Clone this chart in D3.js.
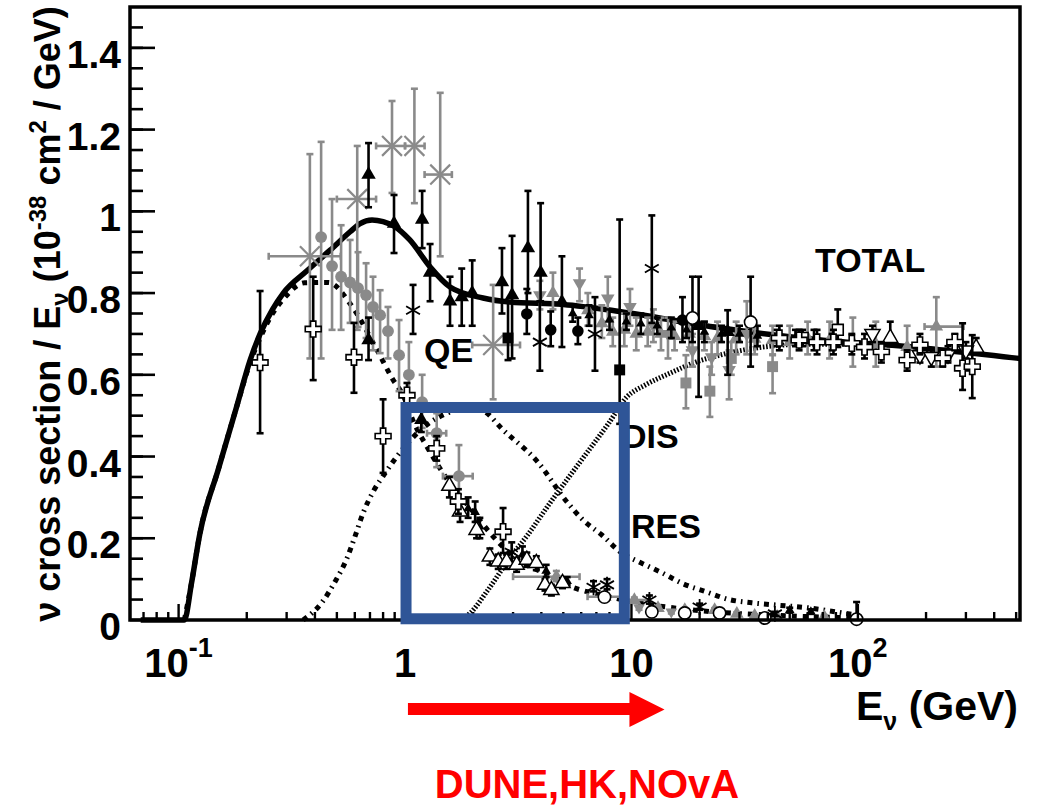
<!DOCTYPE html>
<html>
<head>
<meta charset="utf-8">
<script src="https://cdn.jsdelivr.net/npm/d3@7"></script>
<style>
body { margin: 0; background: #fff; }
svg { display: block; font-family: "Liberation Sans", Arial, sans-serif; font-weight: bold; }
</style>
</head>
<body>
<svg></svg>
<script>
var width = 1041;
var height = 807;

// ---- model curves [E (GeV), sigma/E] ----
var totalCurve = [[0.068,0],[0.106,0],[0.114,0.09],[0.124,0.21],[0.15,0.37],[0.18,0.52],[0.207,0.636],[0.229,0.70],[0.26,0.76],[0.29,0.80],[0.37,0.855],[0.467,0.905],[0.572,0.95],[0.633,0.97],[0.715,0.979],[0.80,0.975],[0.894,0.964],[1.05,0.93],[1.29,0.864],[1.58,0.815],[2.21,0.788],[2.9,0.778],[5,0.772],[8.85,0.755],[24.4,0.715],[67,0.686],[185,0.667],[478,0.642],[520,0.64]];
var qeCurve = [[0.106,0],[0.114,0.09],[0.124,0.21],[0.15,0.37],[0.18,0.52],[0.207,0.63],[0.229,0.69],[0.26,0.75],[0.29,0.785],[0.36,0.825],[0.458,0.826],[0.584,0.767],[0.753,0.66],[0.885,0.588],[0.98,0.55],[1.1,0.48],[1.25,0.424],[1.6,0.33],[2.0,0.265],[2.4,0.21],[3.1,0.15],[4.1,0.115],[5.5,0.08],[7.5,0.06],[10,0.045],[20,0.023],[50,0.01],[100,0.005]];
var resCurve = [[0.355,0],[0.431,0.044],[0.49,0.093],[0.555,0.152],[0.60,0.203],[0.653,0.262],[0.723,0.314],[0.825,0.363],[0.95,0.41],[1.2,0.47],[1.6,0.51],[2.0,0.52],[2.25,0.51],[2.7,0.466],[3.85,0.387],[5.17,0.29],[6.1,0.245],[7.4,0.208],[9,0.165],[10.8,0.142],[13.7,0.115],[16.7,0.09],[21.4,0.069],[27,0.05],[34,0.042],[45,0.036],[60,0.03],[80,0.02],[100,0.012]];
var disCurve = [[1.75,0],[1.94,0.017],[2.3,0.07],[2.88,0.149],[3.5,0.21],[4.3,0.281],[5.3,0.35],[6.43,0.413],[7.9,0.48],[9.55,0.546],[11.5,0.575],[14.8,0.604],[19,0.63],[24.5,0.648],[35,0.665],[60,0.675],[100,0.675]];

// ---- data points [E, y, yLow, yHigh, (xLow, xHigh)] ----
var grayStars = [[0.38,0.89,0.64,1.14,0.25,0.52],[0.615,1.03,0.71,1.16,0.50,0.745],[0.876,1.16,1.045,1.27,0.745,1.0],[1.10,1.16,1.02,1.30,1.0,1.22],[1.43,1.09,0.89,1.29,1.22,1.61],[2.45,0.673,0.54,0.82,1.98,3.22]];
var grayCircles = [[0.426,0.937,0.64,1.17],[0.476,0.866,0.71,1.03],[0.522,0.84,0.71,0.966],[0.572,0.826,0.727,0.93],[0.62,0.812,0.717,0.90],[0.673,0.795,0.69,0.873],[0.722,0.766,0.66,0.84],[0.776,0.746,0.653,0.807],[0.841,0.707,0.64,0.766],[0.941,0.648,0.56,0.734],[1.04,0.60,0.52,0.68],[1.19,0.533,0.47,0.60],[1.38,0.457,0.374,0.506,1.25,1.52],[1.73,0.352,0.277,0.428,1.47,1.99]];
var blackTriUp = [[0.69,1.09,1.01,1.167],[0.69,0.685,0.636,0.74],[0.894,0.97,0.898,1.04],[1.19,0.98,0.91,1.05],[1.29,0.85,0.78,0.92],[1.58,0.78,0.72,0.84],[1.78,0.79,0.72,0.86],[1.98,0.80,0.72,0.88],[2.68,0.827,0.75,0.91],[2.97,0.795,0.64,0.94],[3.49,0.91,0.80,1.05],[3.97,0.85,0.78,1.02],[4.93,0.778,0.668,0.89],[19.8,0.72,0.546,0.84],[26.6,0.705,0.60,0.758],[1.18,0.49,0.46,0.52]];
var blackSmallTri = [[1.9,0.273,0.25,0.30],[2.04,0.264,0.24,0.29],[2.14,0.228,0.2,0.25],[5.5,0.75,0.73,0.77],[6.5,0.745,0.72,0.77],[8,0.735,0.71,0.76],[9.5,0.73,0.71,0.75],[11,0.725,0.70,0.75],[13,0.72,0.70,0.74],[15,0.715,0.69,0.74],[17.5,0.71,0.69,0.73],[21,0.705,0.68,0.73],[25,0.70,0.68,0.72],[30,0.70,0.68,0.72],[36,0.695,0.67,0.72],[44,0.69,0.67,0.71],[53,0.69,0.67,0.71],[64,0.685,0.66,0.71],[77,0.68,0.66,0.70],[3.3,0.16,0.14,0.18],[4.2,0.12,0.105,0.135],[5.2,0.095,0.085,0.105],[50,0.024,0.018,0.03],[62,0.02,0.015,0.026]];
var blackCircles = [[3.45,0.749,0.70,0.81],[4.4,0.71,0.67,0.755],[5.8,0.707,0.675,0.74],[16.8,0.734,0.68,0.79]];
var blackSquares = [[2.85,0.69,0.636,0.78],[8.87,0.612,0.48,0.98]];
var blackStars = [[1.085,0.758,0.70,0.82],[3.94,0.68,0.61,0.78],[6.9,0.70,0.61,0.79],[12.3,0.86,0.727,0.99],[2.96,0.166,0.14,0.19],[6.8,0.08,0.07,0.095],[7.8,0.086,0.075,0.1],[12.0,0.049,0.04,0.06],[20,0.032,0.025,0.04],[43,0.015,0.01,0.02]];
var grayTriDown = [[3.94,0.795,0.76,0.83],[5.9,0.824,0.78,0.86],[7.86,0.787,0.73,0.84],[9.85,0.766,0.72,0.81],[12.5,0.72,0.68,0.76],[14.5,0.70,0.64,0.74],[18.6,0.66,0.62,0.70],[22.6,0.643,0.60,0.68],[27,0.612,0.54,0.66],[32.3,0.70,0.65,0.78]];
var grayTriUp = [[4.5,0.80,0.76,0.85],[6.42,0.758,0.72,0.80],[7.4,0.726,0.69,0.77],[8.27,0.705,0.67,0.74],[9.3,0.71,0.67,0.75],[10.5,0.70,0.66,0.74],[11.8,0.705,0.67,0.74],[13.5,0.70,0.66,0.74],[15.5,0.695,0.66,0.73],[18,0.70,0.66,0.74],[21,0.695,0.66,0.73],[24,0.69,0.65,0.73],[29,0.69,0.65,0.73],[35,0.688,0.65,0.725],[42,0.685,0.65,0.72],[50,0.68,0.64,0.72],[60,0.69,0.65,0.73],[75,0.685,0.64,0.73],[95,0.68,0.62,0.74],[120,0.675,0.62,0.73],[165,0.668,0.61,0.72],[222,0.718,0.62,0.79,197,293],[4.66,0.106,0.095,0.12,3.0,5.9],[7.63,0.057,0.05,0.065,6.4,9.3],[10.3,0.049,0.043,0.055,9.3,12],[13.1,0.029,0.024,0.034],[17.2,0.024,0.019,0.029],[23.3,0.024,0.019,0.029],[29.2,0.015,0.011,0.019],[35,0.01,0.007,0.014],[44,0.008,0.005,0.012],[71,0.008,0.005,0.012]];
var grayTriDownLow = [[10.8,0.03,0.025,0.035],[15,0.02,0.016,0.024]];
var graySquares = [[17.4,0.58,0.518,0.648],[22.2,0.56,0.497,0.62],[27.6,0.64,0.60,0.68],[42,0.62,0.555,0.648]];
var openCircles = [[18.6,0.739,0.68,0.84],[33.6,0.729,0.62,0.84],[7.6,0.056,0.05,0.062],[12.3,0.02,0.015,0.025],[17.2,0.017,0.013,0.022],[24.5,0.017,0.013,0.022],[38.8,0.005,0.002,0.01],[98.7,0.002,0,0.044]];
var openSquares = [[81.5,0.71,0.668,0.76],[57,0.69,0.67,0.71]];
var openCrosses = [[0.229,0.63,0.457,0.805],[0.393,0.712,0.587,0.84],[0.595,0.643,0.556,0.727],[0.80,0.45,0.36,0.54],[1.02,0.55,0.52,0.58],[1.38,0.42,0.39,0.45],[1.72,0.29,0.26,0.32],[2.71,0.216,0.164,0.274],[45,0.69,0.66,0.72],[55,0.685,0.66,0.71],[66,0.68,0.65,0.71],[78,0.68,0.65,0.71],[94,0.677,0.65,0.70],[107,0.668,0.64,0.70],[127,0.656,0.63,0.68],[165,0.636,0.61,0.66],[188,0.673,0.65,0.70],[237,0.641,0.62,0.66],[268,0.68,0.66,0.70],[290,0.616,0.563,0.726],[320,0.62,0.543,0.697]];
var openTriDown = [[116,0.70,0.68,0.72],[188,0.648,0.63,0.67],[211,0.644,0.62,0.66],[250,0.65,0.63,0.67],[300,0.66,0.64,0.68]];
var openTriUp = [[139,0.69,0.67,0.73],[333,0.666,0.65,0.69],[1.57,0.328,0.30,0.35],[1.75,0.265,0.24,0.29],[2.07,0.22,0.20,0.24],[2.37,0.155,0.135,0.175],[2.58,0.143,0.125,0.16],[2.81,0.143,0.125,0.16],[3.11,0.135,0.118,0.152],[3.45,0.147,0.13,0.165],[3.8,0.139,0.122,0.156],[4.15,0.086,0.072,0.1],[4.43,0.073,0.06,0.086],[4.96,0.09,0.078,0.102]];

var yTicks = [0, 0.2, 0.4, 0.6, 0.8, 1, 1.2, 1.4];
var yTickLabels = ["0", "0.2", "0.4", "0.6", "0.8", "1", "1.2", "1.4"];
var xTicks = [0.1, 1, 10, 100];
var xTickBase = ["10", "1", "10", "10"];
var xTickExp = ["-1", "", "", "2"];

var gray = "#8a8a8a";

var svg = d3.select("svg").attr("width", width).attr("height", height);

var x = d3.scaleLog().domain([0.061, 520]).range([130, 1020]);
var y = d3.scaleLinear().domain([0, 1.5]).range([620, 7]);

var line = d3.line()
    .x(function(d) { return x(d[0]); })
    .y(function(d) { return y(d[1]); })
    .curve(d3.curveMonotoneX);

// curves
svg.append("path").datum(disCurve).attr("d", line).attr("fill", "none")
    .attr("stroke", "#000").attr("stroke-width", 5).attr("stroke-dasharray", "1.6,1.7");
svg.append("path").datum(resCurve).attr("d", line).attr("fill", "none")
    .attr("stroke", "#000").attr("stroke-width", 5).attr("stroke-dasharray", "5,5,1.6,5");
svg.append("path").datum(qeCurve).attr("d", line).attr("fill", "none")
    .attr("stroke", "#000").attr("stroke-width", 5).attr("stroke-dasharray", "5,6");
svg.append("path").datum(totalCurve).attr("d", line).attr("fill", "none")
    .attr("stroke", "#000").attr("stroke-width", 5.5).attr("stroke-linejoin", "round");

// data series
var series = [
  {rows: grayCircles, type: d3.symbolCircle, size: 110, fill: gray, stroke: "none", bar: gray},
  {rows: grayStars, type: d3.symbolTimes, size: 260, fill: "none", stroke: gray, sw: 2.2, bar: gray},
  {rows: graySquares, type: d3.symbolSquare, size: 120, fill: gray, stroke: "none", bar: gray},
  {rows: grayTriDown, type: d3.symbolTriangle, size: 80, fill: gray, stroke: "none", bar: gray, flip: true},
  {rows: grayTriDownLow, type: d3.symbolTriangle, size: 60, fill: gray, stroke: "none", bar: gray, flip: true},
  {rows: grayTriUp, type: d3.symbolTriangle, size: 80, fill: gray, stroke: "none", bar: gray},
  {rows: blackSmallTri, type: d3.symbolTriangle, size: 40, fill: "#000", stroke: "none", bar: "#000"},
  {rows: blackTriUp, type: d3.symbolTriangle, size: 90, fill: "#000", stroke: "none", bar: "#000"},
  {rows: blackCircles, type: d3.symbolCircle, size: 105, fill: "#000", stroke: "none", bar: "#000"},
  {rows: blackSquares, type: d3.symbolSquare, size: 120, fill: "#000", stroke: "none", bar: "#000"},
  {rows: blackStars, type: d3.symbolAsterisk, size: 180, fill: "none", stroke: "#000", sw: 1.8, bar: "#000"},
  {rows: openCircles, type: d3.symbolCircle, size: 120, fill: "#fff", stroke: "#000", sw: 1.6, bar: "#000"},
  {rows: openSquares, type: d3.symbolSquare, size: 120, fill: "#fff", stroke: "#000", sw: 1.6, bar: "#000"},
  {rows: openTriUp, type: d3.symbolTriangle, size: 100, fill: "#fff", stroke: "#000", sw: 1.5, bar: "#000"},
  {rows: openTriDown, type: d3.symbolTriangle, size: 100, fill: "#fff", stroke: "#000", sw: 1.5, bar: "#000", flip: true},
  {rows: openCrosses, type: d3.symbolCross, size: 140, fill: "#fff", stroke: "#000", sw: 1.6, bar: "#000"}
];

series.forEach(function(s) {
  var g = svg.append("g");
  // vertical error bars with caps
  g.selectAll(".ey").data(s.rows).enter().append("line")
      .attr("x1", function(d) { return x(d[0]); })
      .attr("x2", function(d) { return x(d[0]); })
      .attr("y1", function(d) { return y(d[2]); })
      .attr("y2", function(d) { return y(d[3]); })
      .attr("stroke", s.bar).attr("stroke-width", 2.6);
  [2, 3].forEach(function(k) {
    g.selectAll(".cap" + k).data(s.rows).enter().append("line")
        .attr("x1", function(d) { return x(d[0]) - 3.5; })
        .attr("x2", function(d) { return x(d[0]) + 3.5; })
        .attr("y1", function(d) { return y(d[k]); })
        .attr("y2", function(d) { return y(d[k]); })
        .attr("stroke", s.bar).attr("stroke-width", 2.6);
  });
  // horizontal error bars
  var xr = s.rows.filter(function(d) { return d.length > 4; });
  g.selectAll(".ex").data(xr).enter().append("line")
      .attr("x1", function(d) { return x(d[4]); })
      .attr("x2", function(d) { return x(d[5]); })
      .attr("y1", function(d) { return y(d[1]); })
      .attr("y2", function(d) { return y(d[1]); })
      .attr("stroke", s.bar).attr("stroke-width", 2.6);
  [4, 5].forEach(function(k) {
    g.selectAll(".xcap" + k).data(xr).enter().append("line")
        .attr("x1", function(d) { return x(d[k]); })
        .attr("x2", function(d) { return x(d[k]); })
        .attr("y1", function(d) { return y(d[1]) - 3.5; })
        .attr("y2", function(d) { return y(d[1]) + 3.5; })
        .attr("stroke", s.bar).attr("stroke-width", 2.6);
  });
  // markers
  g.selectAll(".m").data(s.rows).enter().append("path")
      .attr("transform", function(d) {
        return "translate(" + x(d[0]) + "," + y(d[1]) + ")" + (s.flip ? " rotate(180)" : "");
      })
      .attr("d", d3.symbol().type(s.type).size(s.size))
      .attr("fill", s.fill)
      .attr("stroke", s.stroke)
      .attr("stroke-width", s.sw || 0);
});

// frame
svg.append("rect").attr("x", 130).attr("y", 7).attr("width", 890).attr("height", 613)
    .attr("fill", "none").attr("stroke", "#000").attr("stroke-width", 3.5);

// y ticks (inside)
svg.selectAll(".yminor").data(d3.range(0.05, 1.5, 0.05)).enter().append("line")
    .attr("x1", 130).attr("x2", 143)
    .attr("y1", function(d) { return y(d); }).attr("y2", function(d) { return y(d); })
    .attr("stroke", "#000").attr("stroke-width", 2.6);
svg.selectAll(".ymajor").data(yTicks).enter().append("line")
    .attr("x1", 130).attr("x2", 155)
    .attr("y1", function(d) { return y(d); }).attr("y2", function(d) { return y(d); })
    .attr("stroke", "#000").attr("stroke-width", 2.6);
svg.selectAll(".ylab").data(yTicks).enter().append("text")
    .attr("x", 121).attr("y", function(d) { return y(d) + 20; })
    .attr("text-anchor", "end").attr("font-size", 39)
    .text(function(d, i) { return yTickLabels[i]; });

// x ticks (inside)
svg.selectAll(".xminor").data(x.ticks()).enter().append("line")
    .attr("x1", function(d) { return x(d); }).attr("x2", function(d) { return x(d); })
    .attr("y1", 620).attr("y2", function(d) { return xTicks.indexOf(d) >= 0 ? 604 : 612; })
    .attr("stroke", "#000").attr("stroke-width", 2.4);
var xl = svg.selectAll(".xlab").data(xTicks).enter().append("text")
    .attr("x", function(d) { return x(d); }).attr("y", 677)
    .attr("text-anchor", "middle").attr("font-size", 40);
xl.append("tspan").text(function(d, i) { return xTickBase[i]; });
xl.append("tspan").attr("dy", -20).attr("font-size", 27).text(function(d, i) { return xTickExp[i]; });

// axis titles
var yt = svg.append("text").attr("transform", "translate(60,314) rotate(-90)")
    .attr("text-anchor", "middle").attr("font-size", 36);
yt.append("tspan").text("\u03bd cross section / E");
yt.append("tspan").attr("font-size", 24).attr("dy", 8).text("\u03bd");
yt.append("tspan").attr("dy", -8).text(" (10");
yt.append("tspan").attr("font-size", 24).attr("dy", -14).text("-38");
yt.append("tspan").attr("dy", 14).text(" cm");
yt.append("tspan").attr("font-size", 24).attr("dy", -14).text("2");
yt.append("tspan").attr("dy", 14).text(" / GeV)");

var xt = svg.append("text").attr("x", 1018).attr("y", 720)
    .attr("text-anchor", "end").attr("font-size", 41);
xt.append("tspan").text("E");
xt.append("tspan").attr("font-size", 25).attr("dy", 10).text("\u03bd");
xt.append("tspan").attr("dy", -10).text(" (GeV)");

// curve labels
var curveLabels = [["TOTAL", 815, 272], ["QE", 424, 362], ["DIS", 622, 448], ["RES", 631, 538]];
svg.selectAll(".clab").data(curveLabels).enter().append("text")
    .attr("x", function(d) { return d[1]; }).attr("y", function(d) { return d[2]; })
    .attr("font-size", 34).text(function(d) { return d[0]; });

// blue box: 1 - 9.3 GeV region
svg.append("rect")
    .attr("x", x(1.0) + 1).attr("y", y(0.52))
    .attr("width", x(9.3) - x(1.0) - 1).attr("height", y(0.003) - y(0.52))
    .attr("fill", "none").attr("stroke", "#2F5597").attr("stroke-width", 11);

// red arrow
svg.append("line").attr("x1", x(1.03)).attr("x2", x(9.9)).attr("y1", 709).attr("y2", 709)
    .attr("stroke", "#ff0000").attr("stroke-width", 12);
svg.append("path")
    .attr("d", "M" + x(9.8) + ",692L" + x(14) + ",709.5L" + x(9.8) + ",727Z")
    .attr("fill", "#ff0000");

svg.append("text").attr("x", 587).attr("y", 798).attr("text-anchor", "middle")
    .attr("font-size", 40).attr("fill", "#ff0000").text("DUNE,HK,NOvA");
</script>
</body>
</html>
